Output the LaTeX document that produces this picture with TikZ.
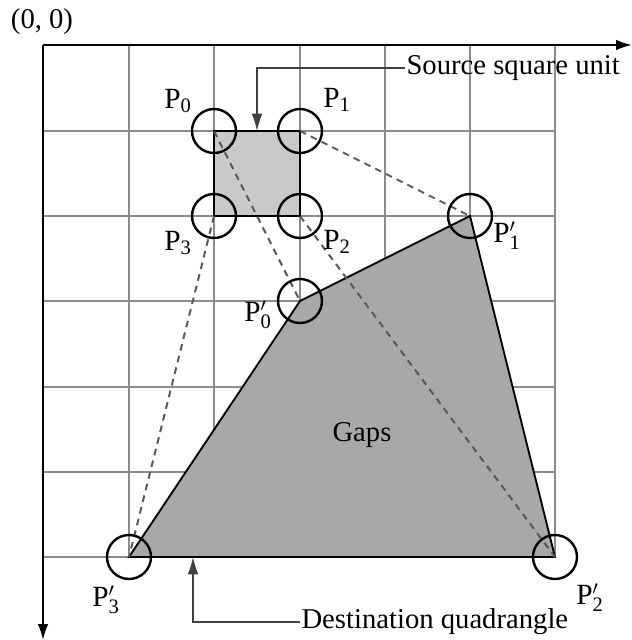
\documentclass[tikz,border=0pt]{standalone}
\usepackage{fontspec}
\setmainfont{Liberation Serif}
\usetikzlibrary{arrows.meta}

\tikzset{every picture/.style={line width=0.75pt}}
\tikzset{
    gridline/.style={draw=black!45, line width=1.2pt},
    ring/.style={circle, draw, line width=1.8pt, minimum size=33pt, inner sep=0pt},
    maplink/.style={draw=black!65, line width=1.5pt, dash pattern={on 5pt off 4pt}},
    lbl/.style={inner sep=0.75pt, font=\fontsize{22}{26}\selectfont},
    txt/.style={inner sep=0.75pt, font=\fontsize{21.5}{26}\selectfont},
    callout/.style={draw=black!75, line width=1.1pt, -{Latex[length=13pt,width=8pt]}},
    axis/.style={line width=1.5pt, -{Latex[length=12pt,width=8pt]}},
}

\begin{document}
\begin{tikzpicture}[x=0.75pt,y=0.75pt,yscale=-1,xscale=1]
        \useasboundingbox (0,0) rectangle (632,640);

        % grid
        \foreach \gx in {129,214,300,385,470,555}
            \draw [gridline] (\gx,45) -- (\gx,557);
        \foreach \gy in {131,216,301,387,472,557}
            \draw [gridline] (43,\gy) -- (555,\gy);

        % source square and destination quadrangle
        \coordinate (p0) at (214,131);
        \coordinate (p1) at (300,131);
        \coordinate (p2) at (300,216);
        \coordinate (p3) at (214,216);
        \coordinate (q0) at (300,301);
        \coordinate (q1) at (470,216);
        \coordinate (q2) at (555,557);
        \coordinate (q3) at (129,557);

        \draw [fill=black!21, line width=1.4pt] (p0) -- (p1) -- (p2) -- (p3) -- cycle;
        \draw [fill=black!34, line width=1.4pt] (q0) -- (q1) -- (q2) -- (q3) -- cycle;

        \foreach \k in {0,...,3}
            \draw [maplink] (p\k) -- (q\k);

        \foreach \k in {0,...,3} {
            \node [ring] (rp\k) at (p\k) {};
            \node [ring] (rq\k) at (q\k) {};
        }

        % axes
        \coordinate (o) at (43,45);
        \coordinate (xend) at (632,45);
        \coordinate (yend) at (43,640);
        \draw [axis] (o) -- (xend);
        \draw [axis] (o) -- (yend);

        \node [txt] (origin) at (42,22) {(0, 0)};
        \node [lbl] (lp0) at (178,101) {$\mathrm{P}_{\mathrm{0}}$};
        \node [lbl] (lp1) at (337,100) {$\mathrm{P}_{\mathrm{1}}$};
        \node [lbl] (lp2) at (337,242) {$\mathrm{P}_{\mathrm{2}}$};
        \node [lbl] (lp3) at (178,243) {$\mathrm{P}_{\mathrm{3}}$};
        \node [lbl] (lq0) at (258,315) {$\mathrm{P}'_{\mathrm{0}}$};
        \node [lbl] (lq1) at (507,236) {$\mathrm{P}'_{\mathrm{1}}$};
        \node [lbl] (lq2) at (590,598) {$\mathrm{P}'_{\mathrm{2}}$};
        \node [lbl] (lq3) at (106,600) {$\mathrm{P}'_{\mathrm{3}}$};
        \node [txt] (gaps) at (362,435) {Gaps};

        % callouts
        \node [txt, anchor=west] (srclbl) at (405,68) {Source square unit};
        \node [txt, anchor=west] (dstlbl) at (300,622) {Destination quadrangle};
        \coordinate (srctip) at (257,131);
        \coordinate (dsttip) at (193,557);
        \draw [callout] (srclbl.west) -| (srctip);
        \draw [callout] (dstlbl.west) -| (dsttip);
\end{tikzpicture}
\end{document}
